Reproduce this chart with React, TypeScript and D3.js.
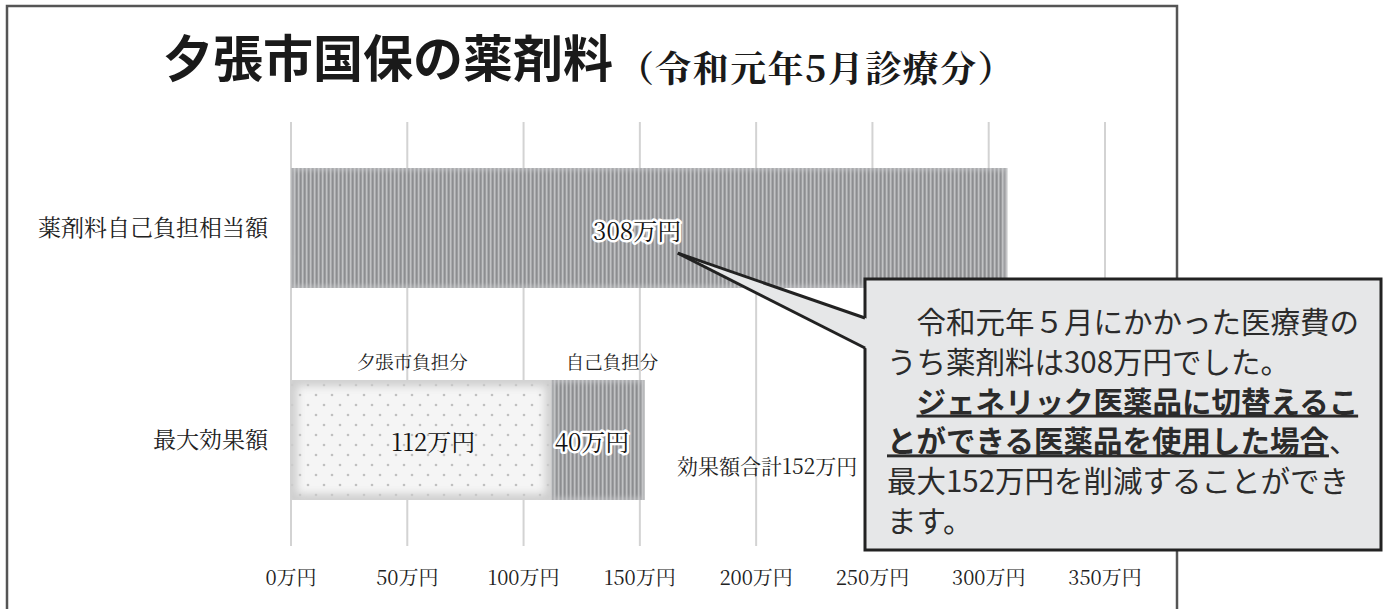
import React from "react";
import * as d3 from "d3";

const categories = ["薬剤料自己負担相当額", "最大効果額"];
const cityShare = [0, 112]; // 夕張市負担分
const selfShare = [308, 40]; // 自己負担分 / 薬剤料
const tickValues = [0, 50, 100, 150, 200, 250, 300, 350];
const segmentNames = ["夕張市負担分", "自己負担分"];
const totalLabel = "効果額合計152万円";
const titleMain = "夕張市国保の薬剤料";
const titleSub = "（令和元年5月診療分）";
const calloutLines = [
  [{ t: "　令和元年５月にかかった医療費の", b: false, u: false }],
  [{ t: "うち薬剤料は308万円でした。", b: false, u: false }],
  [{ t: "　", b: false, u: false }, { t: "ジェネリック医薬品に切替えるこ", b: true, u: true }],
  [{ t: "とができる医薬品を使用した場合", b: true, u: true }, { t: "、", b: false, u: false }],
  [{ t: "最大152万円を削減することができ", b: false, u: false }],
  [{ t: "ます。", b: false, u: false }],
];

const W = 1387;
const H = 609;
const SERIF = "'Noto Serif CJK JP', 'Liberation Serif', 'Noto Sans CJK JP', serif";
const SANS = "'Noto Sans CJK JP', 'Noto Sans', sans-serif";

export default function App() {
  const x = d3.scaleLinear().domain([0, 350]).range([291, 1105]);
  const y = d3
    .scaleBand<string>()
    .domain(categories)
    .range([122, 546])
    .paddingInner(0.434)
    .paddingOuter(0.217);
  const bw = y.bandwidth();

  const rows = categories.map((c, i) => ({
    cat: c,
    city: cityShare[i],
    self: selfShare[i],
  }));
  const stack = d3.stack<any>().keys(["city", "self"])(rows as any);

  const boxX = 865, boxY = 279, boxW = 516, boxH = 271;
  const y0 = y(categories[0]) as number;
  const y1 = y(categories[1]) as number;
  const tip = { x: x(selfShare[0] * 0.54), y: y0 + bw * 0.71 };
  const p1 = { x: boxX, y: boxY + 39 };
  const p2 = { x: boxX, y: boxY + 69 };

  return (
    <svg
      width={W}
      height={H}
      style={{ position: "absolute", left: 0, top: 0, background: "#fff" }}
    >
      <defs>
        <pattern id="stripes" width="4" height="10" patternUnits="userSpaceOnUse">
          <rect width="4" height="10" fill="#a3a4a6" />
          <rect x="0" width="1.3" height="10" fill="#8c8d90" />
          <rect x="2" width="1.2" height="10" fill="#c1c2c4" />
        </pattern>
        <pattern id="dots" width="16" height="20" patternUnits="userSpaceOnUse">
          <rect width="16" height="20" fill="#f5f5f5" />
          <circle cx="4" cy="5" r="1.3" fill="#c0c0c0" />
          <circle cx="12" cy="15" r="1.3" fill="#c0c0c0" />
        </pattern>
        <filter id="blur" x="-10%" y="-10%" width="120%" height="120%">
          <feGaussianBlur stdDeviation="4" />
        </filter>
        <filter id="blur2" x="-10%" y="-10%" width="120%" height="120%">
          <feGaussianBlur stdDeviation="2" />
        </filter>
        {rows.map((r, i) => (
          <clipPath id={`clipc${i}`} key={i}>
            <rect x={x(0)} y={y(r.cat)} width={x(r.city) - x(0)} height={bw} />
          </clipPath>
        ))}
        {rows.map((r, i) => (
          <clipPath id={`clips${i}`} key={i}>
            <rect x={x(r.city)} y={y(r.cat)} width={x(r.city + r.self) - x(r.city)} height={bw} />
          </clipPath>
        ))}
      </defs>

      {/* outer frame */}
      <rect x={7} y={6} width={1170} height={640} fill="none" stroke="#555" strokeWidth={2.5} />

      {/* title */}
      <text x={163} y={77} fontFamily={SANS} fontWeight={700} fontSize={50} fill="#1a1a1a">
        {titleMain}
      </text>
      <text
        x={618}
        y={82}
        fontFamily={SERIF}
        fontWeight={700}
        fontSize={36}
        letterSpacing={1.4}
        fill="#1a1a1a"
      >
        {titleSub}
      </text>

      {/* gridlines */}
      {tickValues.map((t) => (
        <line key={t} x1={x(t)} x2={x(t)} y1={122} y2={546} stroke="#d3d3d3" strokeWidth={2} />
      ))}
      {tickValues.map((t) => (
        <text
          key={t}
          x={x(t)}
          y={585}
          textAnchor="middle"
          fontFamily={SERIF}
          fontSize={20}
          fill="#222"
        >
          {`${t}万円`}
        </text>
      ))}

      {/* category labels */}
      {categories.map((c) => (
        <text
          key={c}
          x={268}
          y={(y(c) as number) + bw / 2 + 8}
          textAnchor="end"
          fontFamily={SERIF}
          fontSize={23}
          fill="#222"
        >
          {c}
        </text>
      ))}

      {/* bars */}
      {stack.map((layer, li) =>
        layer.map((d: any, i: number) => {
          const w = x(d[1]) - x(d[0]);
          if (w <= 0) return null;
          const yy = y(categories[i]) as number;
          const isCity = li === 0;
          return (
            <g key={`${li}-${i}`}>
              <rect
                x={x(d[0])}
                y={yy}
                width={w}
                height={bw}
                fill={isCity ? "url(#dots)" : "url(#stripes)"}
              />
              <g clipPath={`url(#${isCity ? "clipc" : "clips"}${i})`}>
                <rect
                  x={x(d[0])}
                  y={yy}
                  width={w}
                  height={bw}
                  fill="none"
                  stroke={isCity ? "#cdcdcd" : "#c9cacc"}
                  strokeWidth={isCity ? 12 : 6}
                  opacity={isCity ? 1 : 0.6}
                  filter={isCity ? "url(#blur)" : "url(#blur2)"}
                />
              </g>
            </g>
          );
        })
      )}

      {/* segment names */}
      <text x={x(cityShare[1] / 2) - 9} y={y1 - 11} textAnchor="middle" fontFamily={SERIF} fontSize={18.5} fill="#222">
        {segmentNames[0]}
      </text>
      <text x={x(cityShare[1] + selfShare[1] / 2) + 14} y={y1 - 11} textAnchor="middle" fontFamily={SERIF} fontSize={18.5} fill="#222">
        {segmentNames[1]}
      </text>

      {/* value labels */}
      <text
        x={x(cityShare[1] / 2) + 12}
        y={y1 + bw / 2 + 11}
        textAnchor="middle"
        fontFamily={SERIF}
        fontSize={24}
        fill="#111"
      >
        {`${cityShare[1]}万円`}
      </text>
      <text
        x={x(cityShare[1] + selfShare[1] / 2) - 6}
        y={y1 + bw / 2 + 11}
        textAnchor="middle"
        fontFamily={SERIF}
        fontSize={24}
        fill="#111"
        stroke="#fff"
        strokeWidth={5}
        strokeLinejoin="round"
        style={{ paintOrder: "stroke" }}
      >
        {`${selfShare[1]}万円`}
      </text>
      <text
        x={x(selfShare[0] / 2) - 12}
        y={y0 + bw / 2 + 12}
        textAnchor="middle"
        fontFamily={SERIF}
        fontSize={24}
        fill="#111"
        stroke="#fff"
        strokeWidth={5}
        strokeLinejoin="round"
        style={{ paintOrder: "stroke" }}
      >
        {`${selfShare[0]}万円`}
      </text>
      <text x={677} y={y1 + bw / 2 + 34} fontFamily={SERIF} fontSize={21} fill="#222">
        {totalLabel}
      </text>

      {/* callout */}
      <rect x={boxX} y={boxY} width={boxW} height={boxH} fill="#e6e7e8" stroke="#222" strokeWidth={3} />
      <polygon
        points={`${tip.x},${tip.y} ${p1.x + 3},${p1.y + 1} ${p2.x + 3},${p2.y + 1}`}
        fill="#e6e7e8"
      />
      <line x1={tip.x} y1={tip.y} x2={p1.x} y2={p1.y} stroke="#222" strokeWidth={3} />
      <line x1={tip.x} y1={tip.y} x2={p2.x} y2={p2.y} stroke="#222" strokeWidth={3} />

      {calloutLines.map((line, li) => (
        <text
          key={li}
          x={887}
          y={333 + li * 39.8}
          fontFamily={SANS}
          fontSize={29.5}
          fill="#2b2b2b"
        >
          {line.map((s, si) => (
            <tspan
              key={si}
              fontWeight={s.b ? 700 : 400}
              style={
                s.u
                  ? {
                      textDecoration: "underline",
                      textDecorationThickness: "2px",
                      textUnderlineOffset: "4px",
                    }
                  : undefined
              }
            >
              {s.t}
            </tspan>
          ))}
        </text>
      ))}
    </svg>
  );
}
